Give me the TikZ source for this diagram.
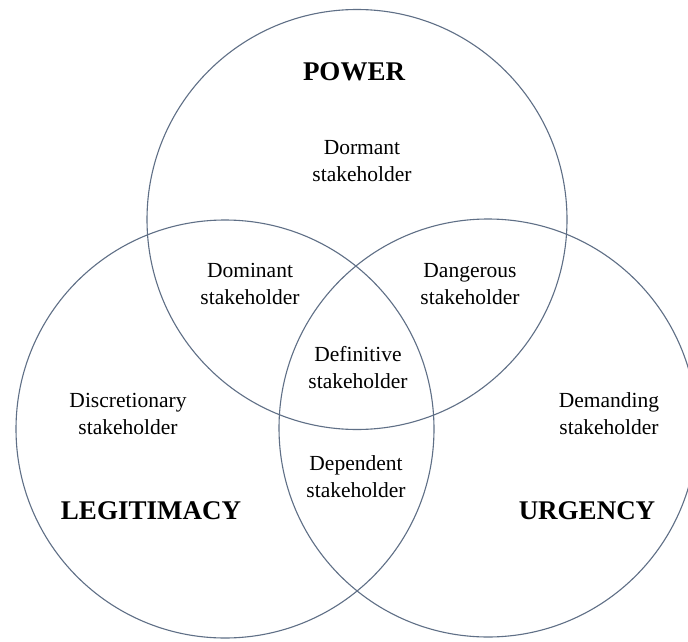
\documentclass[tikz,border=0pt]{standalone}
\usepackage{fontspec}
\setmainfont{Liberation Serif}
\definecolor{ringcol}{HTML}{5F6F86}
\tikzset{
  ring/.style={draw=ringcol, line width=1.1pt},
  lbl/.style={align=center, inner sep=0pt, font=\fontsize{21.5}{27}\selectfont},
  head/.style={inner sep=0pt, font=\fontsize{27}{30}\selectfont\bfseries},
}
\begin{document}
\begin{tikzpicture}[x=1pt,y=-1pt]
\useasboundingbox (0,0) rectangle (688,642);
\clip (0,0) rectangle (688,642);
\fill[white] (0,0) rectangle (688,642);
\node[ring, circle, minimum size=420pt, inner sep=0pt] (pow) at (357,219.5) {};
\node[ring, circle, minimum size=418pt, inner sep=0pt] (leg) at (225,429) {};
\node[ring, circle, minimum size=418pt, inner sep=0pt] (urg) at (488,428) {};
\node[head] (tpow) at (354,72) {POWER};
\node[head] (tleg) at (151,511) {LEGITIMACY};
\node[head] (turg) at (587,511) {URGENCY};
\node[lbl] (dorm) at (362,161) {Dormant\\stakeholder};
\node[lbl] (domi) at (250,284) {Dominant\\stakeholder};
\node[lbl] (dang) at (470,284.5) {Dangerous\\stakeholder};
\node[lbl] (defi) at (358,367.5) {Definitive\\stakeholder};
\node[lbl] (disc) at (128,414) {Discretionary\\stakeholder};
\node[lbl] (dema) at (609,414) {Demanding\\stakeholder};
\node[lbl] (depe) at (356,476.5) {Dependent\\stakeholder};
\end{tikzpicture}
\end{document}
